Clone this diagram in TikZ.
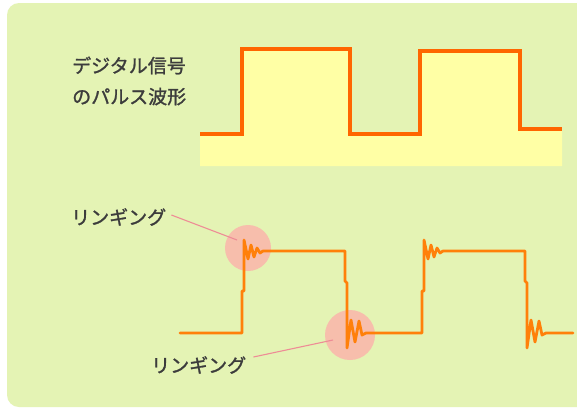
\documentclass[tikz,border=0pt]{standalone}
\usepackage{fontspec}
\newfontfamily\jpfont[FakeBold=1.3]{Noto Sans CJK JP}
\definecolor{bggreen}{RGB}{228,243,180}
\definecolor{fillyellow}{RGB}{255,255,165}
\definecolor{pulseorange}{RGB}{255,102,0}
\definecolor{waveorange}{RGB}{255,128,10}
\definecolor{ringpink}{RGB}{247,190,172}
\definecolor{leaderpink}{RGB}{238,140,150}
\definecolor{textgray}{RGB}{60,60,60}
\tikzset{
  lbl/.style={font=\jpfont\fontsize{19}{23}\selectfont, text=textgray, inner sep=0pt, align=left},
  pulse/.style={draw=pulseorange, line width=4pt, line join=miter},
  wave/.style={draw=waveorange, line width=2.8pt, line join=round, line cap=round},
  ringmark/.style={circle, fill=ringpink, draw=none, inner sep=0pt},
  leader/.style={draw=leaderpink, line width=1.1pt}
}
\begin{document}
\begin{tikzpicture}[x=1pt,y=-1pt]
\useasboundingbox (0,0) rectangle (577,410);
% background panel
\fill[white] (0,0) rectangle (577,410);
\fill[bggreen, rounded corners=12pt] (7,3) rectangle (600,407);
% yellow area under pulse train
\fill[fillyellow] (200,166) -- (200,136) -- (242,136) -- (242,49) -- (350,49) -- (350,136)
  -- (420,136) -- (420,51) -- (520,51) -- (520,129) -- (562,129) -- (562,166) -- cycle;
% ideal pulse
\draw[pulse] (200,134) -- (242,134) -- (242,49) -- (350,49) -- (350,134)
  -- (420,134) -- (420,51) -- (520,51) -- (520,129) -- (562,129);
% title text
\node[lbl, anchor=west] (title) at (72,81) {デジタル信号\\[8pt]のパルス波形};
% ringing highlight circles
\node[ringmark, minimum size=46pt] (ring1) at (248,248) {};
\node[ringmark, minimum size=50pt] (ring2) at (350,335) {};
% labels
\node[lbl, anchor=west] (lab1) at (71,217) {リンギング};
\node[lbl, anchor=west] (lab2) at (151,365) {リンギング};
\coordinate (tip1) at (237,240);
\coordinate (tip2) at (333,340);
\draw[leader] (lab1.east) ++(5,-2) -- (tip1);
\draw[leader] (lab2.east) ++(7,-8) -- (tip2);
% ringing waveform
\draw[wave] (180,333) -- (242,333) -- (242,291) -- (244,291) -- (244,240)
  -- (248,259) -- (251,245) -- (254,257) -- (257,248) -- (260,253) -- (263,251)
  -- (345,251) -- (345,281) -- (347,283) -- (347,348)
  -- (351,320) -- (355,342) -- (359,321) -- (362,335) -- (366,333)
  -- (422,333) -- (422,291) -- (424,291) -- (424,240)
  -- (428,259) -- (431,245) -- (434,257) -- (437,248) -- (440,253) -- (443,251)
  -- (525,251) -- (525,281) -- (527,283) -- (527,348)
  -- (531,320) -- (535,342) -- (539,321) -- (542,335) -- (546,333)
  -- (573,333);
\end{tikzpicture}
\end{document}
